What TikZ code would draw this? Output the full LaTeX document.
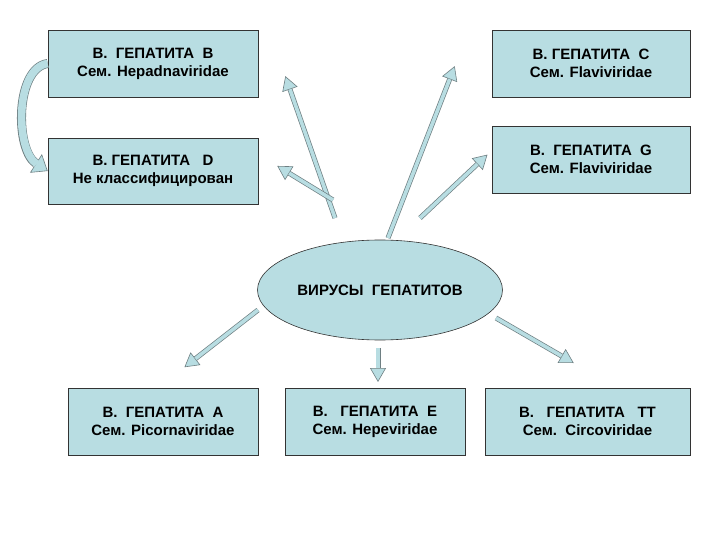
\documentclass[tikz,border=0pt]{standalone}
\usepackage{fontspec}
\setmainfont{Liberation Sans}
\usetikzlibrary{arrows.meta,shapes.geometric}
\definecolor{lb}{HTML}{B8DDE2}
\definecolor{ol}{HTML}{6E7F82}
\tikzset{
 box/.style={draw=black!80,fill=lb,line width=0.6pt,minimum width=#1,minimum height=67pt,align=center,font=\bfseries\fontsize{15pt}{18pt}\selectfont,inner sep=0pt},
 barrow/.style={line width=5pt,draw=ol,-{Triangle[length=14pt,width=16pt,fill=lb,color=ol,line width=0.6pt]},shorten >=-2pt},
 barrowin/.style={line width=3.6pt,draw=lb,shorten >=12pt},
}
\newcommand{\blockarrow}[3][]{\draw[barrow,#1] (#2) -- (#3); \draw[barrowin,#1] (#2) -- (#3);}
\begin{document}
\begin{tikzpicture}[x=1pt,y=-1pt]
\useasboundingbox (0,0) rectangle (720,540);
\node[box=210pt] (b) at (153,63.5) {В.\ \ ГЕПАТИТА\ \ В\\Сем. Hepadnaviridae};
\node[box=198pt] (c) at (591,63.5) {В. ГЕПАТИТА\ \ С\\Сем. Flaviviridae};
\node[box=210pt,minimum height=66pt] (d) at (153,171) {В. ГЕПАТИТА\ \ \ D\\Не классифицирован};
\node[box=198pt] (g) at (591,159.5) {В.\ \ ГЕПАТИТА\ \ G\\Сем. Flaviviridae};
\node[box=190pt] (a) at (163,421.5) {В.\ \ ГЕПАТИТА\ \ А\\Сем. Picornaviridae};
\node[box=180pt] (e) at (375,421.5) {В.\ \ \ ГЕПАТИТА\ \ Е\\Сем. Hepeviridae};
\node[box=205pt] (tt) at (587.5,421.5) {В.\ \ \ ГЕПАТИТА\ \ \ ТТ\\Сем.\ \ Circoviridae};
\node[ellipse,draw=black!80,fill=lb,line width=0.6pt,minimum width=245pt,minimum height=100pt,font=\bfseries\fontsize{15pt}{18pt}\selectfont] (v) at (380,290) {ВИРУСЫ\ \ ГЕПАТИТОВ};
\coordinate (tb) at (335,218); \coordinate (hb) at (286,78);
\coordinate (tc) at (388,238); \coordinate (hc) at (454,68);
\coordinate (td) at (333,200); \coordinate (hd) at (279,167);
\coordinate (tg) at (420,218); \coordinate (hg) at (486,156);
\coordinate (ta) at (258,310); \coordinate (ha) at (186,366);
\coordinate (te) at (378,348); \coordinate (he) at (378,380);
\coordinate (tt2) at (496,318); \coordinate (htt) at (572,362);
\blockarrow{tb}{hb}
\blockarrow{tc}{hc}
\blockarrow{td}{hd}
\blockarrow{tg}{hg}
\blockarrow{ta}{ha}
\blockarrow{te}{he}
\blockarrow{tt2}{htt}
\draw[line width=9pt,draw=ol,-{Triangle[length=14pt,width=22pt,fill=lb,color=ol,line width=0.6pt]}] (b.west) .. controls (15,68) and (15,150) .. (d.west);
\draw[line width=7.6pt,draw=lb,shorten >=13pt] (b.west) .. controls (15,68) and (15,150) .. (d.west);
\end{tikzpicture}
\end{document}
